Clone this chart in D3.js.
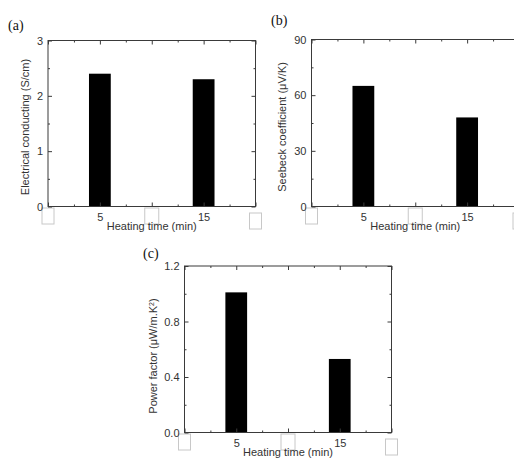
<!DOCTYPE html>
<html><head><meta charset="utf-8">
<script src="https://cdn.jsdelivr.net/npm/d3@7/dist/d3.min.js"></script>
<style>
body{margin:0;background:#fff;}
svg{display:block;font-family:"Liberation Sans",Arial,sans-serif;}
</style></head>
<body>
<svg id="c" width="514" height="464"></svg>
<script>
// ---- data ----
const heatingTimes = [5, 15];
const xTickLabels = ["5", "15"];
const conductivity = [2.4, 2.3];      // S/cm
const seebeck = [65, 48];             // µV/K
const powerFactor = [1.01, 0.53];     // µW/m.K^2
const yTicksA = [0, 1, 2, 3];
const yTicksB = [0, 30, 60, 90];
const yTicksC = [0, 0.4, 0.8, 1.2];
const panelLetters = ["(a)", "(b)", "(c)"];

const svg = d3.select("#c");
const axisColor = "#3a3a3a";
const textColor = "#333";
const sans = "'Liberation Sans', Arial, sans-serif";
const serif = "'Liberation Serif', 'Times New Roman', serif";

function drawPanel(p) {
  const x = d3.scaleLinear().domain([0, 20]).range([p.left, p.right]);
  const y = d3.scaleLinear().domain([0, p.yMax]).range([p.bottom, p.top]);
  const g = svg.append("g");

  // masked label boxes
  const boxes = [0, 10, 20];
  boxes.forEach((v, i) => {
    const bw = i === 1 ? 14 : 12;
    const dy = i === 2 ? 5 : 0;
    g.append("rect")
      .attr("x", x(v) - bw / 2).attr("y", p.bottom + 1.5 + dy)
      .attr("width", bw).attr("height", 16)
      .attr("fill", "#fff").attr("stroke", "#c8c8c8").attr("stroke-width", 1);
  });

  // bars
  const bw = x(2.1) - x(0);
  g.selectAll("rect.bar").data(p.values).enter().append("rect")
    .attr("class", "bar")
    .attr("x", (d, i) => x(heatingTimes[i]) - bw / 2)
    .attr("y", d => y(d))
    .attr("width", bw)
    .attr("height", d => y(0) - y(d))
    .attr("fill", "#000");

  const minorY = d3.range(0, p.yMax + 1e-9, p.yTicks[1] / 2).filter((d, i) => i % 2 === 1);
  const majorX = [0, 5, 10, 15, 20];
  const minorX = [2.5, 7.5, 12.5, 17.5];

  function style(sel) {
    sel.select(".domain").remove();
    sel.attr("font-family", null).attr("font-size", null);
    sel.selectAll("line").attr("stroke", axisColor);
    sel.selectAll("text").attr("fill", textColor)
      .style("font-family", sans).style("font-size", "11px");
  }
  // left axis
  g.append("g").attr("transform", `translate(${p.left},0)`)
    .call(d3.axisLeft(y).tickValues(p.yTicks).tickSize(-4).tickPadding(5).tickFormat(p.fmt))
    .call(style);
  g.append("g").attr("transform", `translate(${p.left},0)`)
    .call(d3.axisLeft(y).tickValues(minorY).tickSize(-2).tickFormat(""))
    .call(style);
  // right axis
  g.append("g").attr("transform", `translate(${p.right},0)`)
    .call(d3.axisRight(y).tickValues(p.yTicks).tickSize(-4).tickFormat(""))
    .call(style);
  g.append("g").attr("transform", `translate(${p.right},0)`)
    .call(d3.axisRight(y).tickValues(minorY).tickSize(-2).tickFormat(""))
    .call(style);
  // bottom axis
  g.append("g").attr("transform", `translate(0,${p.bottom})`)
    .call(d3.axisBottom(x).tickValues(majorX).tickSize(-4).tickPadding(7)
      .tickFormat(d => { const i = heatingTimes.indexOf(d); return i >= 0 ? xTickLabels[i] : ""; }))
    .call(style);
  g.append("g").attr("transform", `translate(0,${p.bottom})`)
    .call(d3.axisBottom(x).tickValues(minorX).tickSize(-2).tickFormat(""))
    .call(style);
  // top axis
  g.append("g").attr("transform", `translate(0,${p.top})`)
    .call(d3.axisTop(x).tickValues(majorX).tickSize(-4).tickFormat(""))
    .call(style);
  g.append("g").attr("transform", `translate(0,${p.top})`)
    .call(d3.axisTop(x).tickValues(minorX).tickSize(-2).tickFormat(""))
    .call(style);

  // frame
  g.append("rect").attr("x", p.left).attr("y", p.top)
    .attr("width", p.right - p.left).attr("height", p.bottom - p.top)
    .attr("fill", "none").attr("stroke", axisColor).attr("stroke-width", 1);

  // x title
  g.append("text").attr("x", (p.left + p.right) / 2).attr("y", p.bottom + 23)
    .attr("text-anchor", "middle").attr("fill", textColor)
    .style("font-family", sans).style("font-size", "11px")
    .text("Heating time (min)");

  // y title
  const yt = g.append("text")
    .attr("transform", `translate(${p.yTitleX},${p.yTitleY}) rotate(-90)`)
    .attr("text-anchor", "middle").attr("fill", textColor)
    .style("font-family", sans).style("font-size", "11px");
  p.yTitle(yt);

  // panel letter
  g.append("text").attr("x", p.letterX).attr("y", p.letterY)
    .style("font-family", serif).style("font-size", "14px")
    .attr("fill", "#111").text(p.letter);
}

drawPanel({
  left: 48, right: 255.5, top: 40.5, bottom: 206.5, yMax: 3,
  yTicks: yTicksA, fmt: d3.format("d"), values: conductivity,
  yTitleX: 29, yTitleY: 127, letterX: 8, letterY: 30, letter: panelLetters[0],
  yTitle: t => t.text("Electrical conducting (S/cm)")
});
drawPanel({
  left: 311.5, right: 519, top: 39.5, bottom: 206.5, yMax: 90,
  yTicks: yTicksB, fmt: d3.format("d"), values: seebeck,
  yTitleX: 286, yTitleY: 127, letterX: 271, letterY: 25, letter: panelLetters[1],
  yTitle: t => t.text("Seebeck coefficient (\u03BCV/K)")
});
drawPanel({
  left: 184.5, right: 391.5, top: 266, bottom: 432.5, yMax: 1.2,
  yTicks: yTicksC, fmt: d3.format(".1f"), values: powerFactor,
  yTitleX: 157, yTitleY: 356, letterX: 143, letterY: 258, letter: panelLetters[2],
  yTitle: t => {
    t.append("tspan").text("Power factor (\u03BCW/m.K");
    t.append("tspan").attr("baseline-shift", "super").style("font-size", "7px").text("2");
    t.append("tspan").text(")");
  }
});
</script>
</body></html>
